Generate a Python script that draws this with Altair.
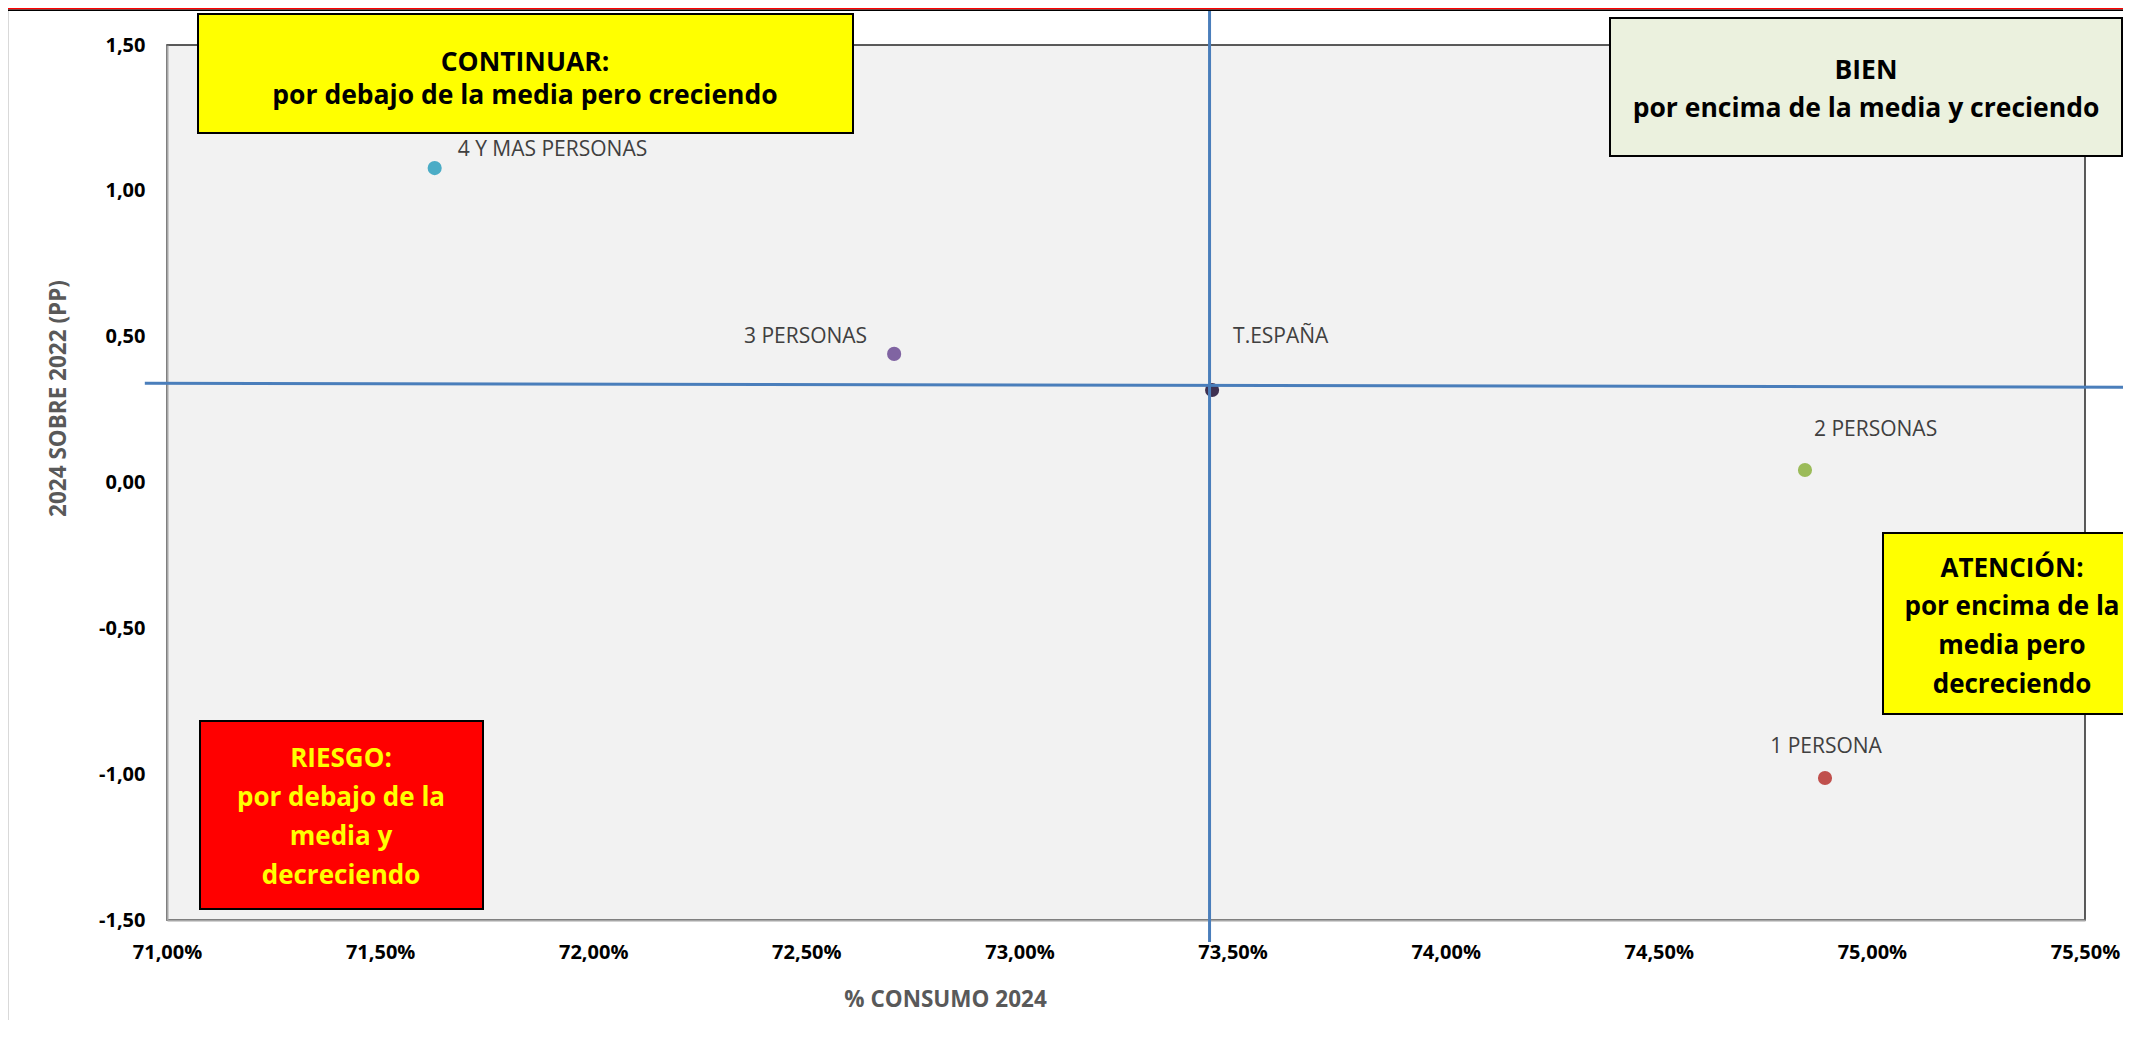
import altair as alt
import pandas as pd

# ---------------- data ----------------
nombres = ["4 Y MAS PERSONAS", "3 PERSONAS", "T.ESPAÑA", "2 PERSONAS", "1 PERSONA"]
consumo_2024 = [71.628, 72.706, 73.452, 74.843, 74.890]   # % consumo 2024
crec_pp = [1.078, 0.441, 0.317, 0.043, -1.013]            # 2024 sobre 2022 (pp)
colores = ["#4BACC6", "#8064A2", "#3F3151", "#9BBB59", "#C0504D"]

x_ticks = [71.0, 71.5, 72.0, 72.5, 73.0, 73.5, 74.0, 74.5, 75.0, 75.5]
y_ticks = [-1.5, -1.0, -0.5, 0.0, 0.5, 1.0, 1.5]

# reference (media) lines: start / end points
media_x_ini = [73.446, 70.948]
media_y_ini = [1.617, 0.3405]
media_x_fin = [73.446, 75.608]
media_y_fin = [-1.575, 0.3267]

box_continuar = ["CONTINUAR:", "por debajo de la media pero creciendo"]
box_bien = ["BIEN", "por encima de la media y creciendo"]
box_atencion = ["ATENCIÓN:", "por encima de la", "media pero", "decreciendo"]
box_riesgo = ["RIESGO:", "por debajo de la", "media y", "decreciendo"]

# ---------------- chart ----------------
FONT = "Open Sans"
W, H = 1918, 875
PAD = {"left": 159, "top": 37, "right": 38, "bottom": 100}

df = pd.DataFrame({"nombre": nombres, "consumo": consumo_2024, "crec": crec_pp})
lineas = pd.DataFrame({"mx": media_x_ini, "my": media_y_ini, "mx2": media_x_fin, "my2": media_y_fin})
one = pd.DataFrame({"k": [0]})

xs = alt.Scale(domain=[71.0, 75.5], nice=False, zero=False)
ys = alt.Scale(domain=[-1.5, 1.5], nice=False, zero=False)

x_axis = alt.Axis(
    values=x_ticks,
    labelExpr="replace(format(datum.value, '.2f'), '.', ',') + '%'",
    labelFont=FONT, labelFontSize=20, labelFontWeight="bold", labelColor="#000000",
    labelPadding=32, labelBaseline="middle", labelFlush=False, labelOverlap=False,
    ticks=False, grid=False,
    domainColor="#A6A6A6", domainWidth=2,
    title="% CONSUMO  2024", titleFont=FONT, titleFontSize=22.5, titleFontWeight="bold",
    titleColor="#595959", titleX=778, titleY=79, titleAlign="center", titleBaseline="middle",
)
y_axis = alt.Axis(
    values=y_ticks,
    labelExpr="replace(replace(format(datum.value, '.2f'), '.', ','), '\u2212', '-')",
    labelFont=FONT, labelFontSize=20, labelFontWeight="bold", labelColor="#000000",
    labelPadding=22, labelBaseline="middle", labelFlush=False, labelOverlap=False,
    ticks=False, grid=False,
    domainColor="#A6A6A6", domainWidth=2,
    title="2024 SOBRE 2022 (PP)", titleFont=FONT, titleFontSize=22.5, titleFontWeight="bold",
    titleColor="#595959", titleX=-109, titleY=353, titleAngle=270,
    titleAlign="center", titleBaseline="middle",
)

X = alt.X("consumo:Q", scale=xs, axis=x_axis)
Y = alt.Y("crec:Q", scale=ys, axis=y_axis)

points = alt.Chart(df).mark_circle(size=200, opacity=1).encode(
    x=X,
    y=Y,
    color=alt.Color("nombre:N", scale=alt.Scale(domain=nombres, range=colores), legend=None),
)

rules = alt.Chart(lineas).transform_calculate(
    consumo="datum.mx", crec="datum.my", consumo2="datum.mx2", crec2="datum.my2"
).mark_rule(color="#4A7EBB", strokeWidth=3).encode(
    x=X,
    y=Y,
    x2="consumo2:Q",
    y2="crec2:Q",
)

label_style = {
    "4 Y MAS PERSONAS": dict(align="left", dx=23, dy=-18),
    "3 PERSONAS": dict(align="right", dx=-27, dy=-17),
    "T.ESPAÑA": dict(align="left", dx=21, dy=-53),
    "2 PERSONAS": dict(align="left", dx=9, dy=-40),
    "1 PERSONA": dict(align="center", dx=1, dy=-31),
}
labels = []
for n in nombres:
    st = label_style[n]
    labels.append(
        alt.Chart(df).transform_filter(alt.datum.nombre == n).mark_text(
            font=FONT, fontSize=21, color="#404040", baseline="middle", **st
        ).encode(x=X, y=Y, text="nombre:N")
    )


def rect(x1, x2, y1, y2, fill, stroke=None, sw=0):
    kw = dict(fill=fill)
    if stroke:
        kw.update(stroke=stroke, strokeWidth=sw)
    return alt.Chart(one).mark_rect(**kw).encode(
        x=alt.value(x1), x2=alt.value(x2), y=alt.value(y1), y2=alt.value(y2)
    )


def texts(lines, cx, baselines, color, size):
    out = []
    for t, b in zip(lines, baselines):
        out.append(
            alt.Chart(one).mark_text(
                font=FONT, fontSize=size, fontWeight="bold", color=color,
                align="center", baseline="alphabetic",
            ).encode(x=alt.value(cx), y=alt.value(b), text=alt.value(t))
        )
    return out


decor = [
    rect(-159, W + PAD["right"], -37, -35.5, "#FF0000"),
    rect(-159, W + PAD["right"], -35.5, -34, "#000000"),
    alt.Chart(one).mark_rule(color="#D9D9D9", strokeWidth=1).encode(
        x=alt.value(-158.5), y=alt.value(-34), y2=alt.value(H + PAD["bottom"])
    ),
]

boxes = []
boxes.append(rect(31, 686, -31, 88, "#FFFF00", "#000000", 2))
boxes += texts(box_continuar, 358, [25.5, 58.5], "#000000", 26.5)
boxes.append(rect(1443, 1955, -27, 111, "#EBF1DE", "#000000", 2))
boxes += texts(box_bien, 1699, [34, 72], "#000000", 26.5)
boxes.append(rect(1716, 1990, 488, 669, "#FFFF00", "#000000", 2))
boxes += texts(box_atencion, 1845, [531.7, 570, 609, 647.7], "#000000", 26)
boxes.append(rect(33, 316, 676, 864, "#FF0000", "#000000", 2))
boxes += texts(box_riesgo, 174, [722, 761, 800, 839], "#FFFF00", 26)

chart = alt.layer(points, rules, *labels, *decor, *boxes).properties(
    width=W,
    height=H,
    autosize=alt.AutoSizeParams(type="none"),
    padding=PAD,
    background="white",
).configure_view(
    fill="#F2F2F2", stroke="#262626", strokeWidth=1.5
)

chart.save("out.html", embed_options={"renderer": "svg", "actions": False})
